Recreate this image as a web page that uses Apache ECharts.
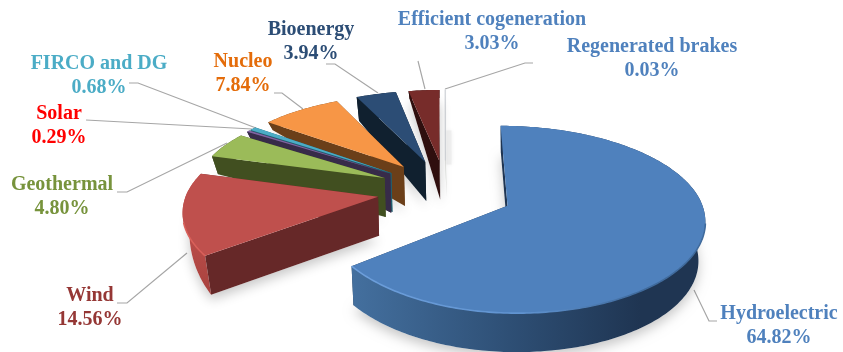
<!DOCTYPE html>
<html>
<head>
<meta charset="utf-8">
<style>html,body{margin:0;padding:0;background:#fff}#chart{width:843px;height:352px}</style>
<script src="https://cdn.jsdelivr.net/npm/echarts@6/dist/echarts.min.js"></script>
</head>
<body>
<div id="chart"></div>
<script>
// Share of each source, clockwise from twelve o'clock
const categories = ['Hydroelectric','Wind','Geothermal','Solar','FIRCO and DG','Nucleo','Bioenergy','Efficient cogeneration','Regenerated brakes'];
const shares = [64.82,14.56,4.80,0.29,0.68,7.84,3.94,3.03,0.03];

// Palette: top face, side face, label
const topColors  = ['#4f81bd','#bf504d','#9bbb59','#8064a2','#4bacc6','#f79646','#2c4d75','#772c2a','#d5d8dc'];
const wallColors = ['#1f3552','#662828','#414f20','#372b49','#1f5f70','#6b3f19','#10202f','#2f0f0e','#d8dad6'];
const labelColors= ['#4f81bd','#953735','#77933c','#ff0000','#4bacc6','#e46c0a','#2c4d75','#4f81bd','#4f81bd'];

// Label centres and leader-line routes
const labelCentres = [[779,326],[90,308],[62,197],[59,126],[99,76],[243,74],[311,42],[492,32],[652,59]];
const leaders = [
  [[694,290],[709,321],[717,321]],
  [[187,253],[127,303],[117,303]],
  [[227,143],[127,192],[117,192]],
  [[252,129],[86,120]],
  [[256,128],[138,83],[129,83]],
  [[303,109],[282,93],[274,93]],
  [[378,93],[335,64],[326,64]],
  [[425,89],[418,61]],
  [[445,89],[525,63],[533,63]]
];

// Camera model of the exploded disc
const view = {cx:445.5, cy:191, explode:68, radius:191, backSquash:0.96, tilt:0.47, distance:1500, thickness:39, baseInset:0.035};
// Wall height at the far corner of each slice (far walls recede quickly)
const farDrop = [27,8,18,10,10,8,24,8,20];

const total = shares.reduce((a,b)=>a+b,0);
const spans = []; let acc = 0;
shares.forEach(v=>{const a=acc/total*360; acc+=v; spans.push([a,acc/total*360]);});

const rad = d=>d*Math.PI/180;
const clamp01 = t=>Math.min(1,Math.max(0,t));

function project(X,V){
  const s = 1/(1+V/view.distance);
  return [view.cx + X*s, view.cy - view.tilt*V*s];
}

function wallDrop(i,V){
  if(i===1) return farDrop[1]+(view.thickness-farDrop[1])*clamp01(-V/126);
  return farDrop[i]+(view.thickness-farDrop[i])*clamp01(-V/40);
}

function sliceGeometry(i){
  const [a0,a1] = spans[i];
  const mid = (a0+a1)/2;
  const ax = view.explode*Math.sin(rad(mid)), av = view.explode*Math.cos(rad(mid));
  const apex = project(ax,av);
  const rimTop = [], rimBot = [];
  const steps = Math.max(2,Math.ceil(a1-a0));
  for(let k=0;k<=steps;k++){
    const a = a0+(a1-a0)*k/steps;
    const sn = Math.sin(rad(a)), cs = Math.cos(rad(a));
    // the big slice foreshortens a little more on its far left side
    const X = ax+view.radius*sn*(i===0&&sn<0?0.95:1);
    const V = av+view.radius*cs*(cs>0?view.backSquash:1);
    const p = project(X,V);
    rimTop.push(p);
    const inset = i===0&&sn<0 ? 0.012 : view.baseInset;
    rimBot.push([p[0]+(apex[0]-p[0])*inset, p[1]+wallDrop(i,V)]);
  }
  const apexBot = [apex[0]+1, apex[1]+view.thickness];
  return {rimTop,rimBot,apex,apexBot,mid};
}

function renderSlice(params){
  const i = params.dataIndex;
  const g = sliceGeometry(i);
  const base = i===0 ? 200 : (9-i)*10;
  const kids = [];
  const poly = (pts,fill,z,extra)=>kids.push({type:'polygon',z2:base+z,shape:{points:pts},style:Object.assign({fill:fill},extra||{})});

  // soft ground shadow beneath the slice
  if(i===8){
    // faint smudge cast by the hairline slice
    kids.push({type:'rect',z2:base-6,shape:{x:g.apex[0]+1,y:g.apex[1]-30,width:5,height:34},style:{fill:'#efefef',shadowBlur:4,shadowColor:'#efefef'}});
  } else {
    poly([g.apexBot,...g.rimBot],'#ffffff',-5,{shadowBlur:12,shadowColor:'rgba(0,0,0,0.22)',shadowOffsetY:5});
  }

  const last = g.rimTop.length-1;
  poly([g.apex,g.rimTop[last],g.rimBot[last],g.apexBot],wallColors[i],0);

  let rimFill = wallColors[i];
  if(i===0) rimFill = new echarts.graphic.LinearGradient(350,0,640,0,[{offset:0,color:'#44709f'},{offset:0.55,color:'#2e4f75'},{offset:1,color:'#1f3552'}],true);
  if(i===1) rimFill = new echarts.graphic.LinearGradient(0,215,0,295,[{offset:0,color:'#c0504d'},{offset:1,color:'#a8423e'}],true);
  poly([...g.rimTop,...g.rimBot.slice().reverse()],rimFill,1);

  poly([g.apex,g.rimTop[0],g.rimBot[0],g.apexBot],wallColors[i],2);

  const top = [g.apex,...g.rimTop];
  poly(top,topColors[i],3,i===8?{stroke:topColors[i],lineWidth:1.2}:{});

  // bevel highlight along the near part of the rim
  if(i<=1){
    const lit = i===0
      ? new echarts.graphic.LinearGradient(350,0,640,0,[{offset:0,color:'#6d9fdc'},{offset:0.6,color:'#6093d0'},{offset:1,color:'#3f6a9c'}],true)
      : '#d9605a';
    const arc = g.rimTop.filter(p=>p[1]>222);
    kids.push({type:'polyline',z2:base+4,shape:{points:arc},style:{fill:null,stroke:lit,lineWidth:1.6}});
  }

  // leader line
  kids.push({type:'polyline',z2:-10,shape:{points:leaders[i]},style:{fill:null,stroke:'#a6a6a6',lineWidth:1.2}});

  // name and percentage
  const [lx,ly] = labelCentres[i];
  kids.push({type:'text',z2:400,style:{
    text:categories[i]+'\n'+shares[i].toFixed(2)+'%',
    x:lx,y:ly,align:'center',verticalAlign:'middle',
    font:'bold 20px "Liberation Serif"',lineHeight:24,fill:labelColors[i]
  }});
  return {type:'group',children:kids};
}

const chart = echarts.init(document.getElementById('chart'),null,{renderer:'canvas'});
chart.setOption({
  animation:false,
  backgroundColor:'#ffffff',
  series:[{
    type:'custom',
    coordinateSystem:'none',
    renderItem:renderSlice,
    data:shares.map((v,i)=>({name:categories[i],value:v})),
    clip:false,
    silent:true
  }]
});
</script>
</body>
</html>
